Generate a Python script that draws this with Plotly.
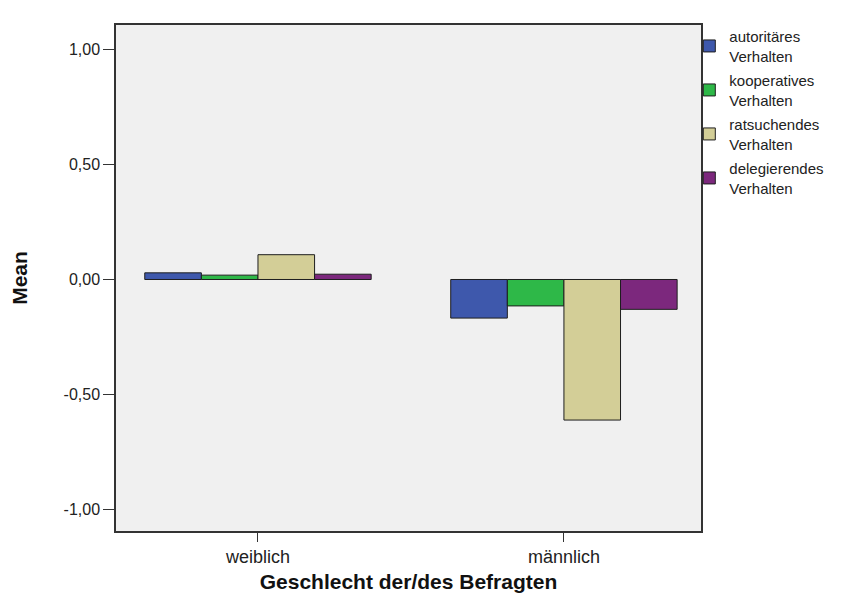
import plotly.graph_objects as go

# Mean scores per gender group
categories = ["weiblich", "männlich"]
series_names = ["autoritäres<br>Verhalten", "kooperatives<br>Verhalten",
                "ratsuchendes<br>Verhalten", "delegierendes<br>Verhalten"]
autoritaer = [0.029, -0.168]
kooperativ = [0.019, -0.115]
ratsuchend = [0.108, -0.612]
delegierend = [0.023, -0.130]
colors = ["#3E58AC", "#2EB848", "#D3CE97", "#7C287D"]

values = [autoritaer, kooperativ, ratsuchend, delegierend]
y_ticks = [-1.0, -0.5, 0.0, 0.5, 1.0]
y_ticktext = ["-1,00", "-0,50", "0,00", "0,50", "1,00"]

fig = go.Figure()
for name, vals, col in zip(series_names, values, colors):
    fig.add_trace(go.Bar(
        x=categories, y=vals, name=name, legendgroup=name,
        marker=dict(color=col, line=dict(color="#1e1e1e", width=1)),
    ))

ytick_font = dict(family="Liberation Sans, Arial, sans-serif", size=16, color="#222")
xtick_font = dict(family="Liberation Sans, Arial, sans-serif", size=18, color="#222")
title_font = dict(family="Liberation Sans, Arial", size=21, color="#111")

fig.update_layout(
    width=856, height=608,
    barmode="group", bargap=0.26, bargroupgap=0,
    paper_bgcolor="white", plot_bgcolor="#F0F0F0",
    margin=dict(l=108, r=163, t=12, b=85),
    showlegend=True,
    legend=dict(x=0.98, xanchor="left", y=1.01, yanchor="top",
                font=dict(family="Liberation Sans, Arial", size=15, color="#222"),
                tracegroupgap=2, itemwidth=30, bgcolor="rgba(0,0,0,0)"),
    xaxis=dict(range=[-0.464, 1.448], showline=True, mirror=True, linecolor="#333",
               linewidth=1.5, ticks="outside", ticklen=9, tickcolor="#333",
               tickfont=xtick_font, showgrid=False,
               title=dict(text="<b>Geschlecht der/des Befragten</b>", font=title_font, standoff=8)),
    yaxis=dict(range=[-1.095, 1.108], tickvals=y_ticks, ticktext=y_ticktext,
               showline=True, mirror=True, linecolor="#333", linewidth=1.5,
               ticks="outside", ticklen=11, tickcolor="#333", tickfont=ytick_font,
               showgrid=False, zeroline=False,
               title=dict(text="<b>Mean</b>", font=title_font, standoff=30)),
)

fig.write_html("out.html")
